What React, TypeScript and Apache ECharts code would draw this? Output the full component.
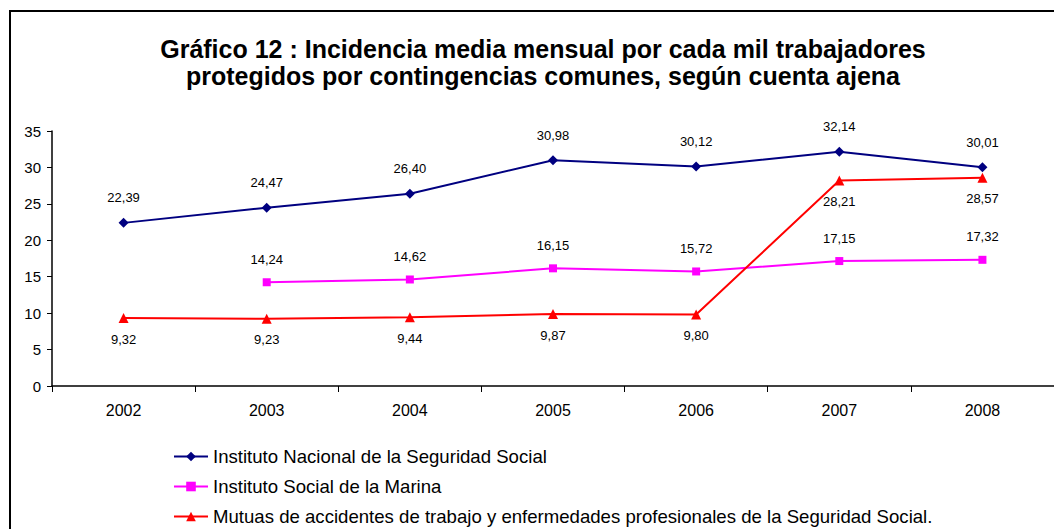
import React, { useEffect, useRef } from "react";
import * as echarts from "echarts";

const years = ["2002", "2003", "2004", "2005", "2006", "2007", "2008"];
const inss = [22.39, 24.47, 26.4, 30.98, 30.12, 32.14, 30.01];
const ism = [null, 14.24, 14.62, 16.15, 15.72, 17.15, 17.32];
const mutuas = [9.32, 9.23, 9.44, 9.87, 9.8, 28.21, 28.57];
const seriesNames = [
  "Instituto Nacional de la Seguridad Social",
  "Instituto Social de la Marina",
  "Mutuas de accidentes de trabajo y enfermedades profesionales de la Seguridad Social.",
];
const titleLines = [
  "Gráfico 12 : Incidencia media mensual por cada mil trabajadores",
  "protegidos por contingencias comunes, según cuenta ajena",
];

const FONT = "'Liberation Sans', Arial, sans-serif";
const fmt = (p: any) => (p.value == null ? "" : Number(p.value).toFixed(2).replace(".", ","));

export default function App() {
  const ref = useRef<HTMLDivElement>(null);
  useEffect(() => {
    if (!ref.current) return;
    const chart = echarts.init(ref.current, undefined, { renderer: "svg" });
    const label = (dy: number) => ({
      show: true,
      position: "inside" as any,
      offset: [0, dy],
      formatter: fmt,
      color: "#000",
      fontSize: 13,
      fontFamily: FONT,
    });
    chart.setOption({
      animation: false,
      backgroundColor: "#fff",
      title: {
        text: titleLines.join("\n"),
        left: 538,
        textAlign: "center",
        top: 30,
        textStyle: {
          fontSize: 25,
          fontWeight: "bold",
          lineHeight: 27,
          fontFamily: FONT,
          color: "#000",
        },
      },
      graphic: [
        {
          type: "rect",
          shape: { x: 10, y: 11, width: 1200, height: 700 },
          style: { fill: "none", stroke: "#000", lineWidth: 2 },
          silent: true,
        },
      ],
      grid: { left: 52, top: 131, width: 1003, height: 255, containLabel: false },
      xAxis: {
        type: "category",
        data: years,
        boundaryGap: true,
        axisLine: { lineStyle: { color: "#000", width: 1.5 } },
        axisTick: { show: true, inside: false, length: 6, lineStyle: { color: "#000" } },
        axisLabel: { color: "#000", fontSize: 16, fontFamily: FONT, margin: 16 },
        splitLine: { show: false },
      },
      yAxis: {
        type: "value",
        min: 0,
        max: 35,
        interval: 5,
        axisLine: { show: true, lineStyle: { color: "#000", width: 1.5 } },
        axisTick: { show: true, inside: false, length: 5, lineStyle: { color: "#000" } },
        axisLabel: { color: "#000", fontSize: 15, fontFamily: FONT, margin: 11 },
        splitLine: { show: false },
      },
      legend: {
        orient: "vertical",
        left: 173,
        top: 447,
        height: 120,
        padding: 0,
        itemWidth: 34,
        itemHeight: 12,
        itemGap: 11,
        textStyle: { fontSize: 18.6, fontFamily: FONT, color: "#000", lineHeight: 19 },
        data: seriesNames,
      },
      series: [
        {
          name: seriesNames[0],
          type: "line",
          data: inss,
          symbol: "diamond",
          symbolSize: 10,
          lineStyle: { color: "#000080", width: 2 },
          itemStyle: { color: "#000080" },
          label: label(-25),
        },
        {
          name: seriesNames[1],
          type: "line",
          data: ism,
          symbol: "rect",
          symbolSize: 8,
          connectNulls: false,
          lineStyle: { color: "#FF00FF", width: 2 },
          itemStyle: { color: "#FF00FF" },
          label: label(-23),
        },
        {
          name: seriesNames[2],
          type: "line",
          data: mutuas,
          symbol: "triangle",
          symbolSize: 10,
          lineStyle: { color: "#FF0000", width: 2 },
          itemStyle: { color: "#FF0000" },
          label: label(21),
        },
      ],
    });
    return () => chart.dispose();
  }, []);
  return (
    <div
      ref={ref}
      style={{ position: "fixed", left: 0, top: 0, width: 1054, height: 529 }}
    />
  );
}
